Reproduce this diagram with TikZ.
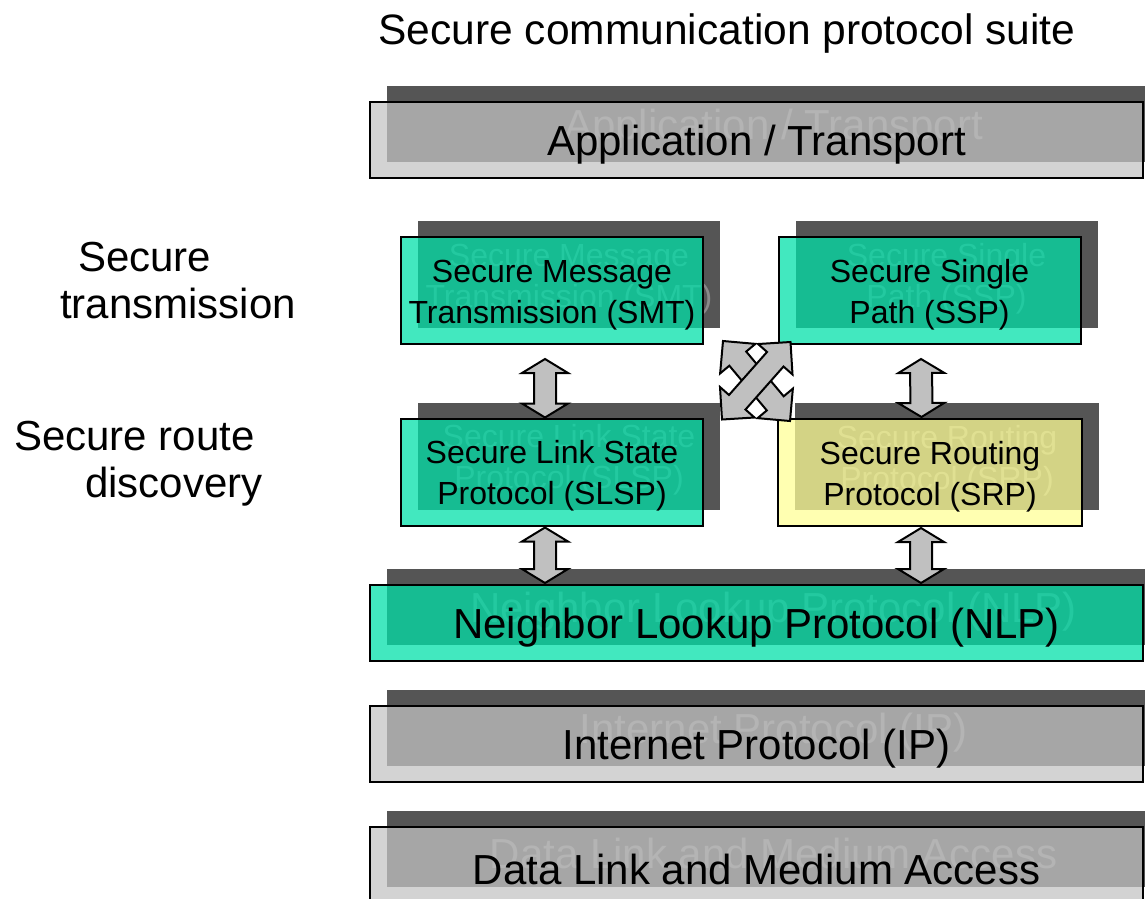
\documentclass[tikz,border=0pt]{standalone}
\usepackage{fontspec}
\setmainfont{Liberation Sans}
\usetikzlibrary{calc,backgrounds}
\definecolor{layergray}{HTML}{C3C3C3}
\definecolor{shadegray}{HTML}{555555}
\definecolor{ghostgray}{HTML}{8A8A8A}
\definecolor{secgreen}{HTML}{00E0A8}
\definecolor{secyellow}{HTML}{FFFF96}
\definecolor{arrowgray}{HTML}{C0C0C0}
\newcommand{\liftrule}{}
% box with its dark shadow behind it
\newcommand{\layerbox}[4]{%
  \node[#2] (#1) at (#3) {\liftrule#4};
  \begin{pgfonlayer}{background}
    \node[#2,shade] (#1-sh) at ([shift={(17,-16)}]#1.center) {\liftrule#4};
  \end{pgfonlayer}}
% fat double arrow between two points, #3 = head length
\newcommand{\fatlink}[3]{%
  \draw[fatarrow] (#1)
    -- ($(#1)!#3!(#2)!23pt!90:(#2)$) -- ($(#1)!#3!(#2)!11pt!90:(#2)$)
    -- ($(#2)!#3!(#1)!11pt!-90:(#1)$) -- ($(#2)!#3!(#1)!23pt!-90:(#1)$)
    -- (#2)
    -- ($(#2)!#3!(#1)!23pt!90:(#1)$) -- ($(#2)!#3!(#1)!11pt!90:(#1)$)
    -- ($(#1)!#3!(#2)!11pt!-90:(#2)$) -- ($(#1)!#3!(#2)!23pt!-90:(#2)$)
    -- cycle;}
\begin{document}
\begin{tikzpicture}[x=1pt,y=-1pt,
    layer/.style={draw=black,line width=2pt,fill opacity=0.74,text opacity=1,
      inner sep=0pt,align=center},
    wide/.style={layer,fill=layergray,minimum width=773pt,minimum height=76pt,
      font=\fontsize{42}{48}\selectfont,/utils/exec={\def\liftrule{\rule{0pt}{40pt}}}},
    small/.style={layer,fill=secgreen,minimum width=302pt,minimum height=107pt,
      font=\fontsize{32}{41}\selectfont,/utils/exec={\def\liftrule{\rule{0pt}{31pt}}}},
    shade/.style={draw=none,fill=shadegray,fill opacity=1,text=ghostgray},
    label/.style={align=left,inner sep=0pt,font=\fontsize{42}{47}\selectfont},
    fatarrow/.style={draw=black,fill=arrowgray,line width=2pt,line join=miter}]
  \useasboundingbox (0,0) rectangle (1145,898);

  \node[inner sep=0pt,font=\fontsize{42.5}{48}\selectfont] (title) at (727,34)
    {Secure communication protocol suite};

  \node[label,anchor=west] (tx) at (60,281) {\hspace*{18pt}Secure\\transmission};
  \node[label,anchor=west] (rd) at (14,464) {Secure route\\\hspace*{71pt}discovery};

  \layerbox{app}{wide}{756.5,140}{Application / Transport}
  \layerbox{smt}{small}{552,290.5}{Secure Message\\Transmission (SMT)}
  \layerbox{ssp}{small}{929.5,290.5}{Secure Single\\Path (SSP)}
  \layerbox{slsp}{small}{552,472}{Secure Link State\\Protocol (SLSP)}
  \layerbox{srp}{small,fill=secyellow,minimum width=304pt}{930,472.5}{Secure Routing\\Protocol (SRP)}
  \layerbox{nlp}{wide,fill=secgreen}{756.5,623}{Neighbor Lookup Protocol (NLP)}
  \layerbox{ip}{wide}{756.5,744}{Internet Protocol (IP)}
  \layerbox{dlm}{wide}{756.5,865}{Data Link and Medium Access}

  \coordinate (a1) at ([xshift=-7pt,yshift=-14pt]smt.south);
  \coordinate (a2) at ([xshift=-7pt]slsp.north);
  \coordinate (a3) at ([xshift=-8.5pt,yshift=-14pt]ssp.south);
  \coordinate (a4) at ([xshift=-8.5pt,yshift=1pt]srp.north);
  \coordinate (a5) at ([xshift=-7pt,yshift=-1pt]slsp.south);
  \coordinate (a6) at ([xshift=-7pt,yshift=1pt]nlp.north -| slsp.south);
  \coordinate (a7) at ([xshift=-9pt,yshift=-1pt]srp.south);
  \coordinate (a8) at ([xshift=-9pt,yshift=1pt]nlp.north -| srp.south);
  \fatlink{a1}{a2}{14pt}
  \fatlink{a3}{a4}{14pt}
  \fatlink{a5}{a6}{14pt}
  \fatlink{a7}{a8}{14pt}

  \coordinate (c1) at ([xshift=19pt,yshift=4pt]smt.south east);
  \coordinate (c2) at ([xshift=13pt,yshift=-3pt]srp.north west);
  \coordinate (c3) at ([xshift=13pt,yshift=3pt]ssp.south west);
  \coordinate (c4) at ([xshift=18pt,yshift=-2pt]slsp.north east);
  \fatlink{c1}{c2}{23pt}
  \fatlink{c3}{c4}{23pt}
\end{tikzpicture}
\end{document}
